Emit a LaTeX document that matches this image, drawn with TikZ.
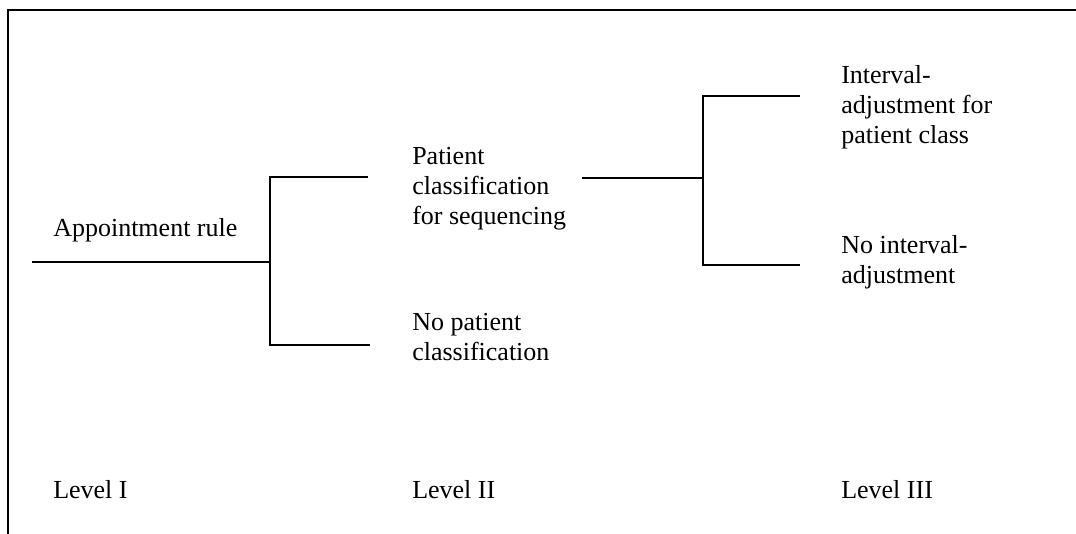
\documentclass[tikz,border=0pt]{standalone}
\usepackage{fontspec}
\setmainfont{Liberation Serif}

\tikzset{
  branch/.style={line width=1.6pt},
  frameline/.style={line width=2.2pt},
  txt/.style={anchor=base west, inner sep=0pt, align=left,
    font=\fontsize{19.5}{22.8}\selectfont},
}

\begin{document}
\begin{tikzpicture}[x=0.75pt,y=-0.75pt]
\useasboundingbox (0,0) rectangle (1076,534);

\draw[frameline] (1076,10) -- (8,10) -- (8,534);

% level I
\coordinate (root) at (32,262);
\coordinate (fork1) at (270,262);
\coordinate (f1top) at (270,177);
\coordinate (f1bot) at (270,345);
\coordinate (clsend) at (368,177);
\coordinate (noclsend) at (370,345);

% level II
\coordinate (clsstart) at (582,178);
\coordinate (fork2) at (703,178);
\coordinate (f2top) at (703,96);
\coordinate (f2bot) at (703,265);
\coordinate (adjend) at (800,96);
\coordinate (noadjend) at (800,265);

\draw[branch] (root) -- (fork1);
\draw[branch] (clsend) -- (f1top) -- (f1bot) -- (noclsend);
\draw[branch] (clsstart) -- (fork2);
\draw[branch] (adjend) -- (f2top) -- (f2bot) -- (noadjend);

% base anchor sits on the last line
\node[txt] (rule) at (53,237) {Appointment rule};
\node[txt] (cls) at (412,225) {Patient\\classification\\for sequencing};
\node[txt] (nocls) at (412,361) {No patient\\classification};
\node[txt] (adj) at (841,144) {Interval-\\adjustment for\\patient class};
\node[txt] (noadj) at (841,284) {No interval-\\adjustment};

\node[txt] (lvl1) at (53,499) {Level I};
\node[txt] (lvl2) at (412,499) {Level II};
\node[txt] (lvl3) at (841,499) {Level III};
\end{tikzpicture}
\end{document}
